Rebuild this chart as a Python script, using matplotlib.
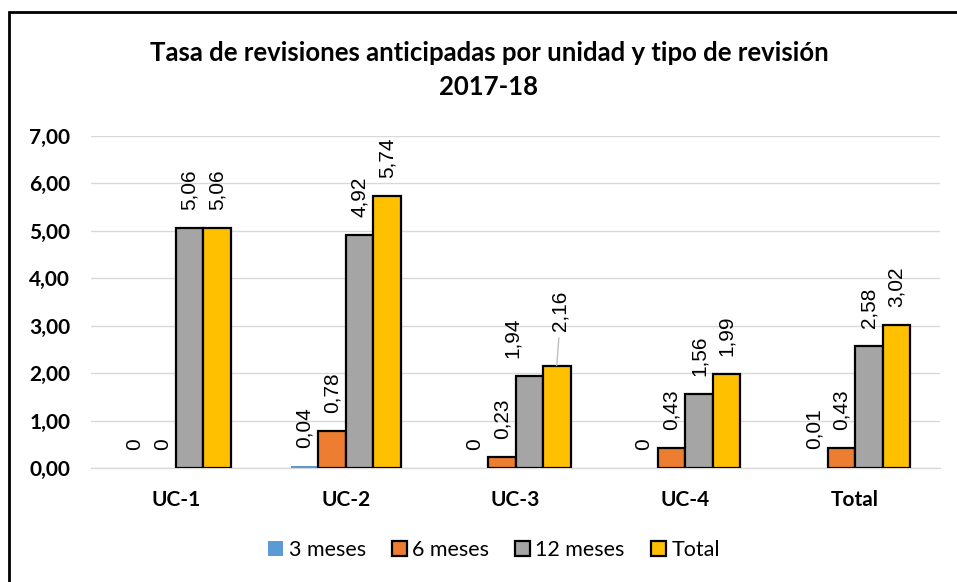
import matplotlib
matplotlib.use("Agg")
import matplotlib.pyplot as plt
from matplotlib.patches import Rectangle, Patch
import numpy as np

categories = ["UC-1", "UC-2", "UC-3", "UC-4", "Total"]
series_names = ["3 meses", "6 meses", "12 meses", "Total"]
v_3m = [0.00, 0.04, 0.00, 0.00, 0.01]
v_6m = [0.00, 0.78, 0.23, 0.43, 0.43]
v_12m = [5.06, 4.92, 1.94, 1.56, 2.58]
v_total = [5.06, 5.74, 2.16, 1.99, 3.02]
y_ticks = [0, 1, 2, 3, 4, 5, 6, 7]
title_text = "Tasa de revisiones anticipadas por unidad y tipo de revisión\n2017-18"

colors = ["#5b9bd5", "#ed7d31", "#a5a5a5", "#ffc000"]
edges = ["none", "black", "black", "black"]

W, H = 957, 582
fig = plt.figure(figsize=(W / 100, H / 100), dpi=100)
ax = fig.add_axes([91 / W, 1 - 468 / H, (940 - 91) / W, (468 - 136) / H])

x = np.arange(len(categories))
w = 0.162
all_vals = [v_3m, v_6m, v_12m, v_total]
offs = [-1.5, -0.5, 0.5, 1.5]
for i, vals in enumerate(all_vals):
    ec = [("none" if (edges[i] == "none" or v == 0) else edges[i]) for v in vals]
    ax.bar(x + offs[i] * w, vals, width=w, color=colors[i],
           edgecolor=ec, linewidth=1.6, zorder=3)


def fmt(v):
    if v == 0:
        return "0"
    return f"{v:.2f}".replace(".", ",")


label_font = dict(family="Liberation Sans", size=15)
for i, vals in enumerate(all_vals):
    for j, v in enumerate(vals):
        xp = x[j] + offs[i] * w
        dx, dy = 0, 13
        if i == 2 and j == 2:
            dx = -12
        if i == 3 and j == 2:
            dx, dy = 2, 25
        ax.annotate(fmt(v), xy=(xp, v), xytext=(dx, dy), textcoords="offset points",
                    rotation=90, ha="center", va="bottom", zorder=4, **label_font)

# leader line for the moved label (UC-3 Total)
xp = x[2] + offs[3] * w
v = v_total[2]
ax.annotate("", xy=(xp, v), xytext=(1.5, 20), textcoords="offset points",
            xycoords="data",
            arrowprops=dict(arrowstyle="-", color="#bfbfbf", lw=1, shrinkA=0, shrinkB=0))

ax.set_ylim(0, 7)
ax.set_xlim(-0.5, len(categories) - 0.5)
ax.set_yticks(y_ticks)
ax.set_yticklabels([f"{t:.2f}".replace(".", ",") for t in y_ticks],
                   fontfamily="Lato", fontweight="bold", fontsize=15)
ax.set_xticks(x)
ax.set_xticklabels(categories, fontfamily="Lato", fontweight="bold", fontsize=15)
ax.tick_params(axis="both", length=0)
ax.tick_params(axis="y", pad=15)
ax.tick_params(axis="x", pad=16)
ax.grid(axis="y", color="#d9d9d9", linewidth=1, zorder=0)
for s in ["top", "right", "left"]:
    ax.spines[s].set_visible(False)
ax.spines["bottom"].set_color("#d9d9d9")
ax.spines["bottom"].set_linewidth(1)

fig.text(489 / W, 1 - 70 / H, title_text, ha="center", va="center",
         fontfamily="Lato", fontweight="bold", fontsize=18.5, linespacing=1.5)

handles = [Patch(facecolor=colors[i], edgecolor=edges[i],
                 linewidth=1.6 if edges[i] != "none" else 0)
           for i in range(len(series_names))]
fig.legend(handles=handles, labels=series_names, loc="center",
           bbox_to_anchor=(494 / W, 1 - 550 / H), ncol=4, frameon=False,
           prop=dict(family="Lato", size=15.5), handlelength=0.7,
           handleheight=0.7, handletextpad=0.25, columnspacing=1.2)

border = Rectangle((9 / W, -0.1), 1.2, 1 - 12 / H + 0.1, transform=fig.transFigure,
                   fill=False, edgecolor="black", linewidth=2, zorder=10)
fig.patches.append(border)

fig.savefig("out.png", dpi=100)
